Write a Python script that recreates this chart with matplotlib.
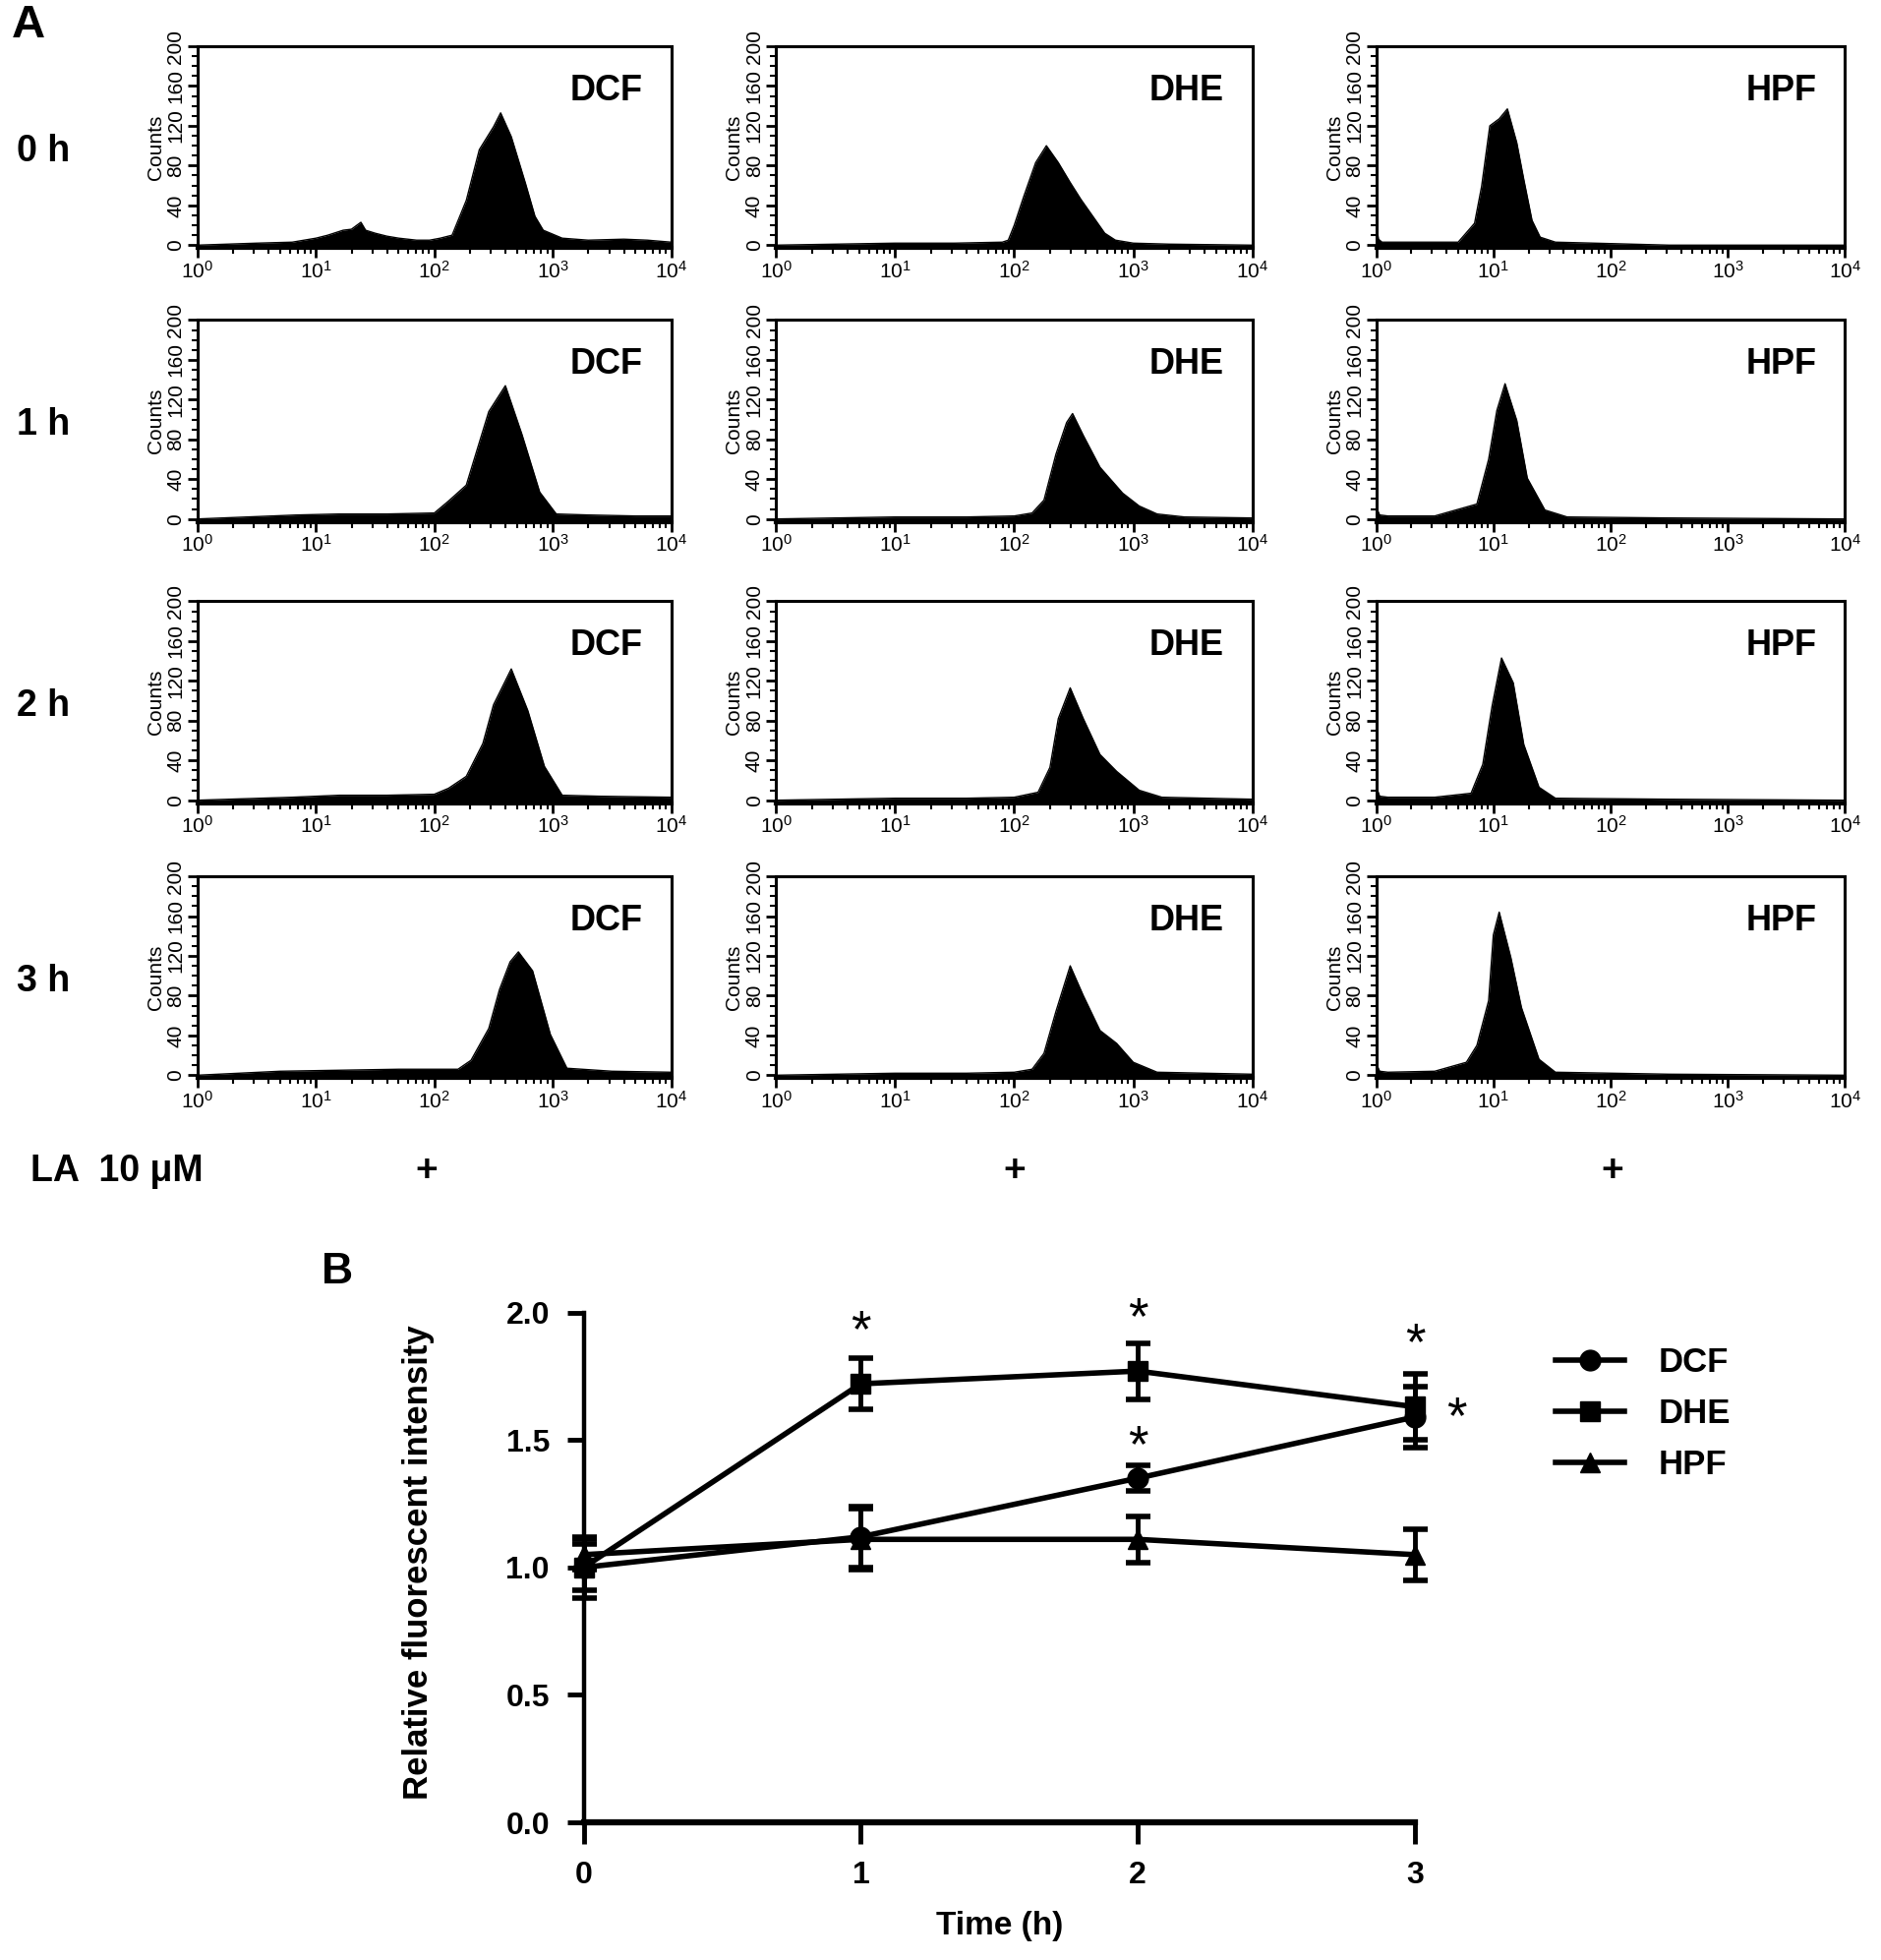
import numpy as np
import matplotlib
matplotlib.use("Agg")
import matplotlib.pyplot as plt
from matplotlib.lines import Line2D
from matplotlib.ticker import LogLocator, MultipleLocator, NullFormatter

NARROW = ["Liberation Sans Narrow", "Liberation Sans", "DejaVu Sans"]
ARIAL = ["Liberation Sans", "DejaVu Sans"]

# ---- panel A: flow histograms, log10 intensity vs counts
dcf_0h_x = [0, 0.5, 0.8, 1.0, 1.1, 1.23, 1.3, 1.38, 1.42, 1.5, 1.6, 1.7, 1.85, 1.96, 2.05, 2.15, 2.27, 2.38, 2.5, 2.56, 2.65, 2.77, 2.85, 2.92, 3.08, 3.3, 3.6, 3.8, 4.0]
dcf_0h_y = [0, 2, 3, 7, 10, 15, 16, 23, 15, 12, 9, 7, 5, 5, 7, 10, 45, 96, 119, 133, 109, 62, 29, 15, 7, 5, 6, 5, 3]
dhe_0h_x = [0, 0.5, 1.0, 1.5, 1.9, 1.95, 2.0, 2.08, 2.18, 2.27, 2.37, 2.47, 2.56, 2.66, 2.76, 2.85, 3.0, 3.3, 4.0]
dhe_0h_y = [0, 1, 2, 2, 3, 5, 20, 49, 83, 100, 83, 63, 46, 29, 12, 5, 2, 1, 0]
hpf_0h_x = [0, 0.02, 0.05, 0.3, 0.7, 0.84, 0.9, 0.97, 1.05, 1.12, 1.2, 1.26, 1.33, 1.4, 1.53, 1.86, 2.5, 4.0]
hpf_0h_y = [22, 6, 3, 3, 3, 22, 59, 120, 127, 137, 103, 66, 25, 8, 3, 2, 0, 0]

dcf_1h_x = [0, 0.84, 1.2, 1.6, 2.0, 2.12, 2.27, 2.46, 2.6, 2.74, 2.89, 3.03, 3.3, 3.7, 4.0]
dcf_1h_y = [0, 4, 5, 5, 6, 18, 34, 108, 134, 85, 27, 5, 4, 3, 3]
dhe_1h_x = [0, 0.5, 1.0, 1.6, 2.0, 2.15, 2.25, 2.35, 2.44, 2.49, 2.58, 2.72, 2.91, 3.05, 3.2, 3.43, 4.0]
dhe_1h_y = [0, 1, 2, 2, 3, 6, 19, 65, 97, 106, 84, 52, 26, 13, 5, 2, 1]
hpf_1h_x = [0, 0.03, 0.1, 0.5, 0.86, 0.96, 1.03, 1.1, 1.2, 1.29, 1.44, 1.63, 2.5, 4.0]
hpf_1h_y = [12, 4, 3, 3, 15, 60, 109, 136, 99, 41, 9, 2, 1, 0]

dcf_2h_x = [0, 0.8, 1.2, 1.6, 2.0, 2.12, 2.27, 2.41, 2.5, 2.65, 2.79, 2.93, 3.08, 3.4, 4.0]
dcf_2h_y = [0, 3, 5, 5, 6, 12, 24, 57, 96, 132, 90, 34, 5, 4, 3]
dhe_2h_x = [0, 0.5, 1.0, 1.6, 2.0, 2.2, 2.3, 2.37, 2.47, 2.58, 2.72, 2.86, 3.05, 3.24, 4.0]
dhe_2h_y = [0, 1, 2, 2, 3, 8, 33, 82, 113, 82, 46, 29, 10, 3, 1]
hpf_2h_x = [0, 0.03, 0.1, 0.5, 0.81, 0.91, 0.99, 1.07, 1.17, 1.26, 1.39, 1.53, 2.5, 4.0]
hpf_2h_y = [14, 4, 3, 3, 7, 36, 95, 143, 118, 56, 13, 2, 1, 0]

dcf_3h_x = [0, 0.7, 1.2, 1.7, 2.2, 2.31, 2.46, 2.55, 2.64, 2.71, 2.83, 2.98, 3.12, 3.5, 4.0]
dcf_3h_y = [0, 4, 5, 6, 6, 15, 47, 86, 114, 124, 105, 41, 7, 4, 3]
dhe_3h_x = [0, 0.5, 1.0, 1.6, 2.0, 2.15, 2.25, 2.35, 2.47, 2.58, 2.72, 2.86, 3.0, 3.2, 4.0]
dhe_3h_y = [0, 1, 2, 2, 3, 6, 22, 64, 110, 80, 45, 32, 13, 3, 1]
hpf_3h_x = [0, 0.03, 0.1, 0.5, 0.77, 0.86, 0.96, 1.0, 1.05, 1.15, 1.24, 1.39, 1.53, 2.5, 4.0]
hpf_3h_y = [12, 4, 3, 4, 13, 30, 75, 141, 164, 118, 68, 16, 3, 1, 0]

probes = ["DCF", "DHE", "HPF"]
hours = ["0 h", "1 h", "2 h", "3 h"]
grid = [
    [(dcf_0h_x, dcf_0h_y), (dhe_0h_x, dhe_0h_y), (hpf_0h_x, hpf_0h_y)],
    [(dcf_1h_x, dcf_1h_y), (dhe_1h_x, dhe_1h_y), (hpf_1h_x, hpf_1h_y)],
    [(dcf_2h_x, dcf_2h_y), (dhe_2h_x, dhe_2h_y), (hpf_2h_x, hpf_2h_y)],
    [(dcf_3h_x, dcf_3h_y), (dhe_3h_x, dhe_3h_y), (hpf_3h_x, hpf_3h_y)],
]

# ---- panel B: relative fluorescent intensity over time
time_h = [0, 1, 2, 3]
dcf_mean = [1.00, 1.12, 1.35, 1.59]
dcf_err = [0.12, 0.12, 0.05, 0.12]
dhe_mean = [1.00, 1.72, 1.77, 1.63]
dhe_err = [0.09, 0.10, 0.11, 0.13]
hpf_mean = [1.05, 1.11, 1.11, 1.05]
hpf_err = [0.06, 0.12, 0.09, 0.10]
# significance marks (x, y)
star_x = [1, 2, 3, 2, 3.15]
star_y = [1.92, 1.97, 1.87, 1.47, 1.58]


fig = plt.figure(figsize=(19.13, 19.93), dpi=100)

col_left = [0.1050, 0.4126, 0.7316]
col_width = [0.2518, 0.2532, 0.2492]
row_top = [0.9764, 0.8367, 0.6932, 0.5529]
row_h = 0.103


def draw_hist(ax, lx, cnt, name):
    x = 10.0 ** np.asarray(lx, dtype=float)
    ax.fill_between(x, cnt, -3, color="black", lw=0)
    ax.plot(x, cnt, color="black", lw=1.0)
    ax.set_xscale("log")
    ax.set_xlim(1, 1e4)
    ax.set_ylim(-3, 200)
    ax.set_xticks([1, 10, 100, 1000, 10000])
    ax.set_xticklabels([r"$\mathregular{10^{%d}}$" % i for i in range(5)],
                       fontsize=15, family=ARIAL)
    ax.xaxis.set_minor_locator(LogLocator(base=10, subs=np.arange(2, 10)))
    ax.xaxis.set_minor_formatter(NullFormatter())
    ax.set_yticks([0, 40, 80, 120, 160, 200])
    ax.set_yticklabels(["0", "40", "80", "120", "160", "200"], rotation=90,
                       va="center", fontsize=15, family=ARIAL)
    ax.yaxis.set_minor_locator(MultipleLocator(10))
    ax.tick_params(which="major", length=7, width=2, direction="out", pad=2)
    ax.tick_params(which="minor", length=4, width=1.5, direction="out")
    ax.set_ylabel("Counts", fontsize=15, family=ARIAL, labelpad=1)
    for s in ax.spines.values():
        s.set_linewidth(2.2)
    ax.spines["bottom"].set_linewidth(3)
    ax.text(0.94, 0.78, name, transform=ax.transAxes, ha="right", va="center",
            fontsize=26, fontweight="bold", family=NARROW)


for r in range(4):
    for c in range(3):
        ax = fig.add_axes([col_left[c], row_top[r] - row_h, col_width[c], row_h])
        lx, cnt = grid[r][c]
        draw_hist(ax, lx, cnt, probes[c])
    fig.text(0.023, row_top[r] - row_h * 0.52, hours[r], ha="center", va="center",
             fontsize=27, fontweight="bold", family=NARROW)

fig.text(0.006, 0.987, "A", ha="left", va="center", fontsize=34, fontweight="bold", family=NARROW)
fig.text(0.016, 0.4024, "LA  10 μM", ha="left", va="center", fontsize=27, fontweight="bold", family=NARROW)
for xp in [0.2266, 0.5395, 0.8571]:
    fig.text(xp, 0.4024, "+", ha="center", va="center", fontsize=28, fontweight="bold", family=ARIAL)

fig.text(0.171, 0.3512, "B", ha="left", va="center", fontsize=32, fontweight="bold", family=ARIAL)

# ---- panel B axes
axb = fig.add_axes([0.3103, 0.0702, 0.4419, 0.2602])
series = [
    ("DCF", dcf_mean, dcf_err, "o", 15),
    ("DHE", dhe_mean, dhe_err, "s", 14),
    ("HPF", hpf_mean, hpf_err, "^", 14),
]
handles = []
for name, m, e, mk, ms in series:
    axb.errorbar(time_h, m, yerr=e, marker=mk, ms=ms, color="black", lw=4,
                 elinewidth=3.5, capsize=9, capthick=4, clip_on=False, zorder=3)
    handles.append(Line2D([], [], color="black", lw=4, marker=mk, ms=ms))

for sx, sy in zip(star_x, star_y):
    axb.text(sx, sy, "*", ha="center", va="center", fontsize=38, family=ARIAL)

axb.set_xlim(0, 3)
axb.set_ylim(0, 2.0)
axb.set_xticks([0, 1, 2, 3])
axb.set_yticks([0.0, 0.5, 1.0, 1.5, 2.0])
axb.set_yticklabels(["0.0", "0.5", "1.0", "1.5", "2.0"])
for lab in axb.get_xticklabels() + axb.get_yticklabels():
    lab.set_family(NARROW)
    lab.set_fontweight("bold")
    lab.set_fontsize(23)
axb.tick_params(axis="x", length=16, width=3.5, pad=12)
axb.tick_params(axis="y", length=12, width=3.5, pad=13)
axb.spines["top"].set_visible(False)
axb.spines["right"].set_visible(False)
axb.spines["left"].set_linewidth(3.2)
axb.spines["bottom"].set_linewidth(4.5)
axb.set_xlabel("Time (h)", fontsize=24, fontweight="bold", family=NARROW, labelpad=15)
fig.text(0.2226, 0.2027, "Relative fluorescent intensity", rotation=90, ha="center",
         va="center", fontsize=25, fontweight="bold", family=ARIAL)

fig.legend(handles, ["DCF", "DHE", "HPF"], loc="upper left",
           bbox_to_anchor=(0.818, 0.3218), frameon=False, handlelength=2.0,
           handletextpad=1.0, labelspacing=0.55, borderpad=0,
           prop={"family": ARIAL, "weight": "bold", "size": 25})

fig.savefig("out.png", dpi=100)
